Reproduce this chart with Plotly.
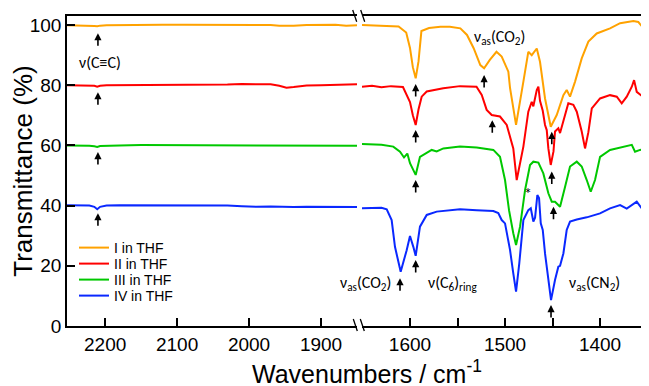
import plotly.graph_objects as go

# ---------------- data ----------------
series_names = ["I in THF", "II in THF", "III in THF", "IV in THF"]
series_colors = ["#FFA200", "#FF0000", "#00C800", "#0A28FF"]

# left panel (2250 - 1850 cm-1)
wn_left = [2253, 2235, 2222, 2215, 2211, 2207, 2198, 2180, 2150, 2120, 2090, 2060,
           2030, 2010, 1990, 1970, 1958, 1948, 1938, 1920, 1900, 1880, 1865, 1850]
T_left_I = [99.9, 99.9, 99.8, 99.7, 99.6, 99.8, 99.9, 100.0, 100.1, 100.1, 100.1, 100.1,
            100.0, 100.0, 100.1, 100.0, 99.8, 99.7, 99.8, 100.0, 100.0, 100.1, 99.8, 99.9]
T_left_II = [80.0, 80.0, 79.9, 79.8, 79.5, 79.8, 80.0, 80.0, 80.0, 80.1, 80.0, 80.1,
             80.2, 80.4, 80.4, 80.3, 79.8, 79.2, 79.4, 79.9, 80.0, 80.1, 80.2, 80.3]
T_left_III = [60.0, 60.0, 59.9, 59.7, 59.5, 59.8, 59.9, 60.0, 60.1, 60.1, 60.1, 60.1,
              60.0, 60.0, 59.9, 59.9, 60.0, 59.9, 59.9, 60.0, 60.1, 59.9, 59.9, 59.9]
T_left_IV = [40.1, 40.1, 40.0, 39.6, 38.8, 39.6, 40.0, 40.1, 40.1, 40.2, 40.2, 40.1,
             40.0, 39.8, 39.6, 39.7, 39.6, 39.6, 39.5, 39.6, 39.5, 39.4, 39.5, 39.5]

# right panel (1650 - 1350 cm-1)
wn_right_I = [1650.5, 1630, 1612, 1604, 1600, 1597, 1594, 1591, 1588, 1580, 1568, 1558, 1547,
              1540, 1533, 1526, 1522, 1516, 1509, 1503.5, 1496.5, 1494.7, 1488.4, 1480.7,
              1475.5, 1471.9, 1466.6, 1463.2, 1457.9, 1451.9, 1445.6, 1438.6, 1435.1,
              1431.6, 1426.3, 1419.3, 1412.3, 1403.5, 1389.5, 1378.9, 1364.9, 1359.7,
              1352.6, 1348.4]
T_right_I = [100.0, 99.8, 99.5, 97.5, 92.4, 86.0, 82.3, 88.0, 98.0, 99.0, 99.4, 99.4, 98.9,
             96.7, 92.3, 86.7, 85.6, 88.4, 91.1, 89.5, 84.5, 79.0, 66.8, 81.2,
             91.1, 90.0, 92.2, 87.8, 75.6, 66.2, 70.1, 76.7, 78.4,
             76.2, 81.2, 88.9, 94.5, 97.2, 98.9, 100.6, 101.3, 101.0,
             98.3, 97.6]

wn_right_II = [1650.5, 1640, 1630, 1620, 1607.4, 1600, 1597, 1594, 1591, 1587.7, 1582.4, 1565,
               1547.4, 1530, 1524.5, 1519.3, 1514, 1505.3, 1498.2, 1491.3, 1487.7, 1484,
               1480.7, 1475.5, 1471.9, 1470.2, 1466.6, 1464.9, 1463.2, 1460.3, 1457.9,
               1456.1, 1454.4, 1451.9, 1449, 1447.4, 1443.9, 1442.1, 1438.6, 1433.4,
               1428.1, 1424.5, 1419.3, 1415.8, 1412.3, 1408.7, 1400, 1389.5, 1382.4,
               1377.2, 1371.9, 1366.6, 1364.2, 1361.4, 1356.1, 1348.4]
T_right_II = [79.5, 79.8, 79.3, 79.7, 79.4, 74.4, 70.0, 66.8, 72.0, 76.2, 77.9, 79.0,
              79.7, 79.5, 76.8, 71.8, 70.1, 69.6, 66.8, 59.0, 48.5, 54.0,
              59.6, 71.2, 74.5, 73.0, 78.4, 79.5, 74.8, 71.5, 66.8,
              65.1, 59.0, 53.5, 58.0, 64.6, 65.7, 64.1, 67.8, 74.0,
              73.5, 71.2, 64.6, 59.0, 64.4, 72.3, 75.6, 76.7, 76.2,
              74.0, 76.2, 79.5, 81.7, 77.8, 76.5, 77.8]

wn_right_III = [1650.5, 1630, 1617.6, 1610.5, 1606.3, 1602.8, 1600, 1594, 1589.5, 1584.2,
                1577.2, 1571.9, 1564.9, 1547.4, 1529.8, 1512.3, 1505.3, 1500, 1495.8,
                1491.3, 1488.4, 1484.2, 1478.9, 1473.7, 1470.2, 1464.9, 1459.7, 1454.4,
                1450.8, 1447.4, 1442.1, 1436.8, 1431.6, 1424.5, 1419.3, 1414, 1409.8,
                1405.3, 1400, 1389.5, 1375.4, 1366.6, 1363.2, 1357.9, 1348.4]
T_right_III = [60.5, 60.2, 59.6, 57.9, 56.0, 57.3, 54.1, 50.2, 56.2, 57.3,
               58.5, 58.0, 59.0, 59.6, 59.3, 58.5, 56.2, 48.5, 38.5,
               30.8, 26.9, 33.0, 45.2, 53.5, 54.6, 54.3, 50.7, 44.1,
               41.3, 41.3, 39.6, 46.3, 53.0, 54.6, 53.0, 48.5, 44.6,
               48.5, 56.2, 58.5, 59.6, 60.2, 57.9, 58.5, 59.0]

wn_right_IV = [1650.5, 1630, 1624.5, 1619.3, 1615.8, 1609.8, 1603.5, 1600, 1596.5, 1594,
               1589.5, 1582.4, 1571.9, 1557.9, 1547.4, 1529.8, 1512.3, 1507.1, 1503.5,
               1500, 1494.7, 1491.3, 1488.4, 1485, 1480.7, 1475.5, 1472.9, 1470.2,
               1468.4, 1466, 1464.2, 1462.4, 1460.3, 1457.9, 1454.4, 1451.6, 1447.4,
               1443.9, 1442.1, 1438.6, 1435.1, 1431.6, 1424.5, 1414, 1400, 1389.5,
               1378.9, 1371.9, 1361.4, 1356.1, 1348.4]
T_right_IV = [39.1, 39.3, 38.8, 35.2, 26.3, 18.0, 25.2, 29.9, 26.3, 23.3,
              33.0, 36.9, 38.0, 38.5, 38.8, 38.5, 38.2, 37.5, 35.2,
              34.1, 25.2, 17.5, 11.4, 20.8, 35.2, 38.5, 39.1, 34.7,
              36.0, 43.5, 42.5, 34.1, 31.9, 24.1, 15.3, 8.6, 15.3,
              19.7, 20.0, 24.1, 31.9, 34.7, 35.4, 36.1, 37.4, 39.1,
              40.2, 39.0, 41.3, 39.1, 38.9]

left_T = [T_left_I, T_left_II, T_left_III, T_left_IV]
right_wn = [wn_right_I, wn_right_II, wn_right_III, wn_right_IV]
right_T = [T_right_I, T_right_II, T_right_III, T_right_IV]

x_ticks_left = [2200, 2100, 2000, 1900]
x_ticks_right = [1600, 1500, 1400]
y_ticks = [0, 20, 40, 60, 80, 100]

# arrow markers (axis, wavenumber, transmittance at arrow head)
arrow_axis = ["x", "x", "x", "x", "x2", "x2", "x2", "x2", "x2", "x2", "x2", "x2", "x2", "x2", "x2"]
arrow_wn = [2210, 2210, 2210, 2210, 1594, 1522, 1594, 1513.4, 1450.8, 1594, 1450.8, 1449,
            1610.5, 1594, 1451.6]
arrow_T = [97.3, 77.7, 57.8, 37.5, 80.4, 83.4, 65.1, 68.4, 64.5, 48.5, 51.3, 39.6,
           15.9, 21.9, 7.0]

# ---------------- layout geometry (window pixels) ----------------
OFF = 8                      # page body margin of the html page
FIG_W, FIG_H = 649 - OFF, 386 - OFF
L, R, T, B = 67, 649, 16, 326   # plot area in window pixels
W, H = R - L, B - T


def px(x):
    return (x - L) / W


def py(y):
    return (B - y) / H


legend_ids = ["legend", "legend2", "legend3", "legend4"]
legend_rows = [248, 264, 280, 296]

fig = go.Figure()
for i in range(4):
    fig.add_trace(go.Scatter(x=wn_left, y=left_T[i], mode="lines", name=series_names[i],
                             line=dict(color=series_colors[i], width=2),
                             xaxis="x", yaxis="y", legendgroup=series_names[i],
                             legend=legend_ids[i]))
    fig.add_trace(go.Scatter(x=right_wn[i], y=right_T[i], mode="lines", name=series_names[i],
                             line=dict(color=series_colors[i], width=2),
                             xaxis="x2", yaxis="y", legendgroup=series_names[i],
                             legend=legend_ids[i], showlegend=False))

tick_font = dict(family="Liberation Sans, Arial", size=19, color="black")
axis_common = dict(showline=True, linecolor="black", linewidth=1.5, mirror=True,
                   ticks="inside", ticklen=8, tickwidth=1.5, tickcolor="black",
                   showgrid=False, zeroline=False, tickfont=tick_font)

layout = dict(
    width=FIG_W, height=FIG_H,
    margin=dict(l=L - OFF, r=649 - R, t=T - OFF, b=FIG_H - (B - OFF)),
    plot_bgcolor="white", paper_bgcolor="white",
    xaxis=dict(domain=[0, px(357)], range=[2253, 1850], tickvals=x_ticks_left,
               anchor="y", **axis_common),
    xaxis2=dict(domain=[px(362), 1], range=[1650.5, 1348.5], tickvals=x_ticks_right,
                minor=dict(dtick=50, ticks="inside", ticklen=8, tickwidth=1.5,
                           tickcolor="black", showgrid=False),
                anchor="y", **axis_common),
    yaxis=dict(range=[0, 103], tickvals=y_ticks, anchor="x", automargin=False,
               showline=True, linecolor="black", linewidth=1.5,
               ticks="inside", ticklen=8, tickwidth=1.5, tickcolor="black",
               showgrid=False, zeroline=False, tickfont=tick_font,
               title=dict(text="Transmittance (%)", standoff=4,
                          font=dict(family="Liberation Sans, Arial", size=26, color="black"))),
    showlegend=True,
)
for lid, row in zip(legend_ids, legend_rows):
    layout[lid] = dict(x=px(74), y=py(row), xanchor="left", yanchor="middle",
                       bgcolor="rgba(0,0,0,0)", borderwidth=0,
                       font=dict(family="Liberation Sans, Arial", size=14, color="black"))
fig.update_layout(**layout)

ann_font = dict(family="Carlito, Lato, Noto Sans", size=16, color="black")
annotations = []
for ax_, w_, t_ in zip(arrow_axis, arrow_wn, arrow_T):
    annotations.append(dict(x=w_, y=t_, xref=ax_, yref="y", text="", showarrow=True,
                            ax=0, ay=14, arrowhead=2, arrowsize=0.9, arrowwidth=1.6,
                            arrowcolor="black"))

labels = [
    ("x", 2207.4, 87.4, "ν(C≡C)"),
    ("x2", 1505.3, 96.0, "ν<sub>as</sub>(CO<sub>2</sub>)"),
    ("x2", 1646.3, 14.0, "ν<sub>as</sub>(CO<sub>2</sub>)"),
    ("x2", 1555.8, 14.0, "ν(C<sub>6</sub>)<sub>ring</sub>"),
    ("x2", 1406.3, 14.0, "ν<sub>as</sub>(CN<sub>2</sub>)"),
    ("x2", 1475.8, 43.9, "*"),
]
for ax_, w_, t_, txt in labels:
    annotations.append(dict(x=w_, y=t_, xref=ax_, yref="y", text=txt, showarrow=False,
                            xanchor="center", yanchor="middle", font=ann_font))

annotations.append(dict(x=px(367), y=py(372), xref="paper", yref="paper",
                        text="Wavenumbers / cm<sup>-1</sup>", showarrow=False,
                        xanchor="center", yanchor="middle",
                        font=dict(family="Liberation Sans, Arial", size=25, color="black")))
fig.update_layout(annotations=annotations)

# axis-break marks
shapes = []
for (x0, y0, x1, y1) in [(352.7, 10, 356.7, 21.7), (360.7, 10, 364.7, 21.7),
                         (353.3, 319, 357.3, 331), (360.3, 319, 364.3, 331)]:
    shapes.append(dict(type="line", xref="paper", yref="paper",
                       x0=px(x0), y0=py(y0), x1=px(x1), y1=py(y1),
                       line=dict(color="black", width=1.3)))
fig.update_layout(shapes=shapes)

fig.write_html("out.html")
